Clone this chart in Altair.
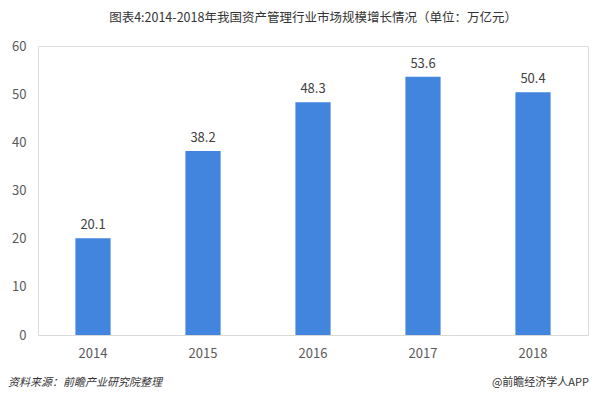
import altair as alt
import pandas as pd

years = ["2014", "2015", "2016", "2017", "2018"]
values = [20.1, 38.2, 48.3, 53.6, 50.4]
title_text = "图表4:2014-2018年我国资产管理行业市场规模增长情况（单位：万亿元）"
source_text = "资料来源：前瞻产业研究院整理"
brand_text = "@前瞻经济学人APP"

df = pd.DataFrame({"year": years, "value": values})
FONT = "Noto Sans CJK SC"

base = alt.Chart(df).encode(
    x=alt.X("year:N", sort=years,
            scale=alt.Scale(paddingInner=0.68, paddingOuter=0.34),
            axis=alt.Axis(title=None, labelAngle=0, ticks=False, domainColor="#d9d9d9",
                          labelColor="#595959", labelFontSize=13, labelPadding=12,
                          labelFont=FONT)),
)

bars = base.mark_bar(color="#4285DF").encode(
    y=alt.Y("value:Q", scale=alt.Scale(domain=[0, 60]),
            axis=alt.Axis(title=None, values=[0, 10, 20, 30, 40, 50, 60], grid=False,
                          domain=False, ticks=False, labelColor="#595959",
                          labelFontSize=13, labelPadding=12, labelFont=FONT)),
)

labels = base.mark_text(dy=-13, fontSize=13, color="#404040", font=FONT).encode(
    y="value:Q", text=alt.Text("value:Q", format=".1f"))

src = alt.Chart(pd.DataFrame({"t": [source_text]})).mark_text(
    align="left", baseline="middle", fontSize=11, fontStyle="italic", color="#333333", font=FONT
).encode(x=alt.value(-30), y=alt.value(337), text="t:N")

brand = alt.Chart(pd.DataFrame({"t": [brand_text]})).mark_text(
    align="right", baseline="middle", fontSize=11, color="#333333", font=FONT
).encode(x=alt.value(551), y=alt.value(337), text="t:N")

chart = alt.layer(bars, labels, src, brand).properties(
    width=550, height=289,
    title=alt.TitleParams(title_text, anchor="middle", fontSize=12.5, fontWeight="normal",
                          color="#333333", font=FONT, offset=16),
    padding={"left": 30, "top": 38, "right": 4, "bottom": 56},
    autosize=alt.AutoSizeParams(type="none"),
).configure_view(stroke=None).configure(background="white")

chart.save("out.html", embed_options={"renderer": "svg", "actions": False})
